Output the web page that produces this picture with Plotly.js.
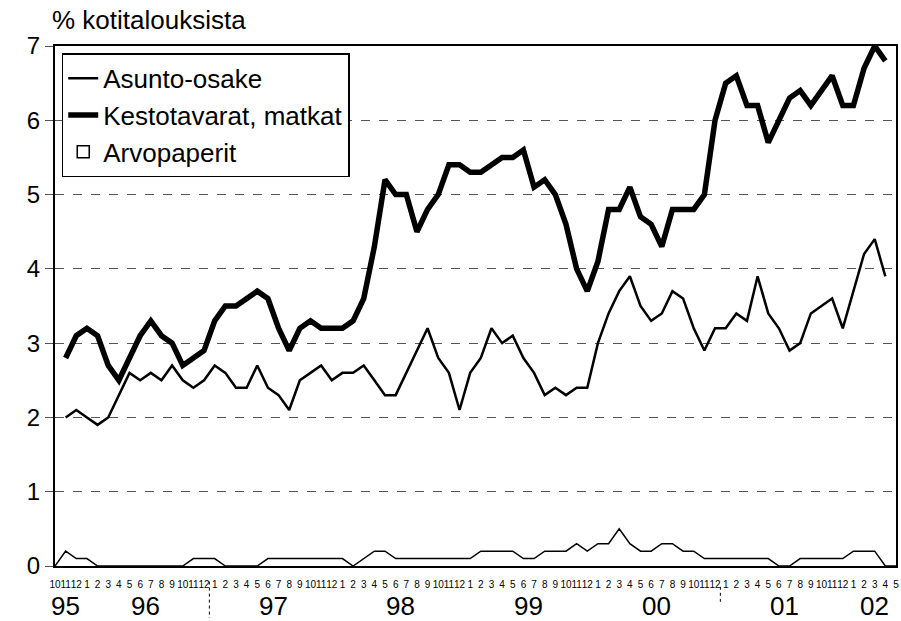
<!DOCTYPE html>
<html>
<head>
<meta charset="utf-8">
<script src="https://cdn.plot.ly/plotly-3.0.1.min.js"></script>
<style>
  html, body { margin: 0; padding: 0; background: #ffffff; }
  #chart { width: 901px; height: 621px; }
</style>
</head>
<body>
<div id="chart"></div>
<script>
// Month tick labels, Oct 1995 ... May 2002
const months = ['10','11','12',
  '1','2','3','4','5','6','7','8','9','10','11','12',
  '1','2','3','4','5','6','7','8','9','10','11','12',
  '1','2','3','4','5','6','7','8','9','10','11','12',
  '1','2','3','4','5','6','7','8','9','10','11','12',
  '1','2','3','4','5','6','7','8','9','10','11','12',
  '1','2','3','4','5','6','7','8','9','10','11','12',
  '1','2','3','4','5'];
const years = ['95','96','97','98','99','00','01','02'];

// % of households
const asuntoOsake = [null,2.0,2.1,2.0,1.9,2.0,2.3,2.6,2.5,2.6,2.5,2.7,2.5,2.4,2.5,2.7,2.6,2.4,2.4,2.7,2.4,2.3,2.1,2.5,2.6,2.7,2.5,2.6,2.6,2.7,2.5,2.3,2.3,2.6,2.9,3.2,2.8,2.6,2.1,2.6,2.8,3.2,3.0,3.1,2.8,2.6,2.3,2.4,2.3,2.4,2.4,3.0,3.4,3.7,3.9,3.5,3.3,3.4,3.7,3.6,3.2,2.9,3.2,3.2,3.4,3.3,3.9,3.4,3.2,2.9,3.0,3.4,3.5,3.6,3.2,3.7,4.2,4.4,3.9,null];
const kestotavarat = [null,2.8,3.1,3.2,3.1,2.7,2.5,2.8,3.1,3.3,3.1,3.0,2.7,2.8,2.9,3.3,3.5,3.5,3.6,3.7,3.6,3.2,2.9,3.2,3.3,3.2,3.2,3.2,3.3,3.6,4.3,5.2,5.0,5.0,4.5,4.8,5.0,5.4,5.4,5.3,5.3,5.4,5.5,5.5,5.6,5.1,5.2,5.0,4.6,4.0,3.7,4.1,4.8,4.8,5.1,4.7,4.6,4.3,4.8,4.8,4.8,5.0,6.0,6.5,6.6,6.2,6.2,5.7,6.0,6.3,6.4,6.2,6.4,6.6,6.2,6.2,6.7,7.0,6.8,null];
const arvopaperit = [0,0.2,0.1,0.1,0,0,0,0,0,0,0,0,0,0.1,0.1,0.1,0,0,0,0,0.1,0.1,0.1,0.1,0.1,0.1,0.1,0.1,0,0.1,0.2,0.2,0.1,0.1,0.1,0.1,0.1,0.1,0.1,0.1,0.2,0.2,0.2,0.2,0.1,0.1,0.2,0.2,0.2,0.3,0.2,0.3,0.3,0.5,0.3,0.2,0.2,0.3,0.3,0.2,0.2,0.1,0.1,0.1,0.1,0.1,0.1,0.1,0,0,0.1,0.1,0.1,0.1,0.1,0.2,0.2,0.2,0,0];

const idx = months.map((m, i) => i);

// year label positions: centre of each year's run of months
const yearCentres = [];
let start = 0;
for (let i = 1; i <= months.length; i++) {
  if (i === months.length || months[i] === '1') {
    yearCentres.push((start + i - 1) / 2);
    start = i;
  }
}

const FONT = 'Liberation Sans, Arial, sans-serif';

const traces = [
  { x: idx, y: asuntoOsake, name: 'Asunto-osake', type: 'scatter', mode: 'lines',
    line: { color: '#000', width: 2.5 }, legendgroup: 'a' },
  { x: idx, y: kestotavarat, name: 'Kestotavarat, matkat', type: 'scatter', mode: 'lines',
    line: { color: '#000', width: 5.5 }, legendgroup: 'b' },
  { x: idx, y: arvopaperit, name: 'Arvopaperit', type: 'scatter', mode: 'lines',
    fill: 'tozeroy', fillcolor: '#ffffff', line: { color: '#000', width: 1.5 },
    legendgroup: 'c', showlegend: false },
  // legend entry (box symbol) for the area series; carries no visible mark
  { x: [idx[0]], y: [null], name: 'Arvopaperit', type: 'bar',
    marker: { color: '#ffffff', line: { color: '#000', width: 1.5 } }, legendgroup: 'c' }
];

const annotations = years.map((t, k) => ({
  text: t, x: yearCentres[k], xref: 'x', y: -0.076, yref: 'paper',
  xanchor: 'center', yanchor: 'middle', showarrow: false,
  font: { family: FONT, size: 26, color: '#000' }
}));
annotations.push({
  text: '% kotitalouksista', xref: 'paper', yref: 'paper', x: -0.006, y: 1.05,
  xanchor: 'left', yanchor: 'middle', showarrow: false,
  font: { family: FONT, size: 26, color: '#000' }
});

const layout = {
  width: 901, height: 621,
  margin: { l: 55, r: 5, t: 46, b: 55 },
  paper_bgcolor: '#fff', plot_bgcolor: '#fff',
  showlegend: true,
  legend: {
    x: 0.008, y: 0.986, xanchor: 'left', yanchor: 'top',
    bgcolor: '#fff', bordercolor: '#000', borderwidth: 1.5,
    font: { family: FONT, size: 26, color: '#000' },
    itemwidth: 30, traceorder: 'grouped', tracegroupgap: 0
  },
  xaxis: {
    range: [0, 79], tickmode: 'array', tickvals: idx, ticktext: months, tickangle: 0,
    tickfont: { family: 'Liberation Sans Narrow, Liberation Sans, Arial', size: 10, color: '#000' },
    ticklabelstandoff: 8,
    showgrid: false, zeroline: false, showline: true, linecolor: '#000', linewidth: 2,
    mirror: true, ticks: ''
  },
  yaxis: {
    range: [0, 7], tickmode: 'linear', tick0: 0, dtick: 1,
    tickfont: { family: FONT, size: 24, color: '#000' },
    showgrid: true, gridcolor: '#555', gridwidth: 1, griddash: 'dash',
    zeroline: false, showline: true, linecolor: '#000', linewidth: 2, mirror: true,
    ticks: 'outside', ticklen: 8, tickcolor: '#555', tickwidth: 1
  },
  annotations: annotations,
  shapes: [
    { type: 'line', xref: 'x', yref: 'paper', x0: 14.5, x1: 14.5, y0: -0.03, y1: -0.1,
      line: { color: '#000', width: 1, dash: 'dot' } },
    { type: 'line', xref: 'x', yref: 'paper', x0: 62.5, x1: 62.5, y0: -0.04, y1: -0.07,
      line: { color: '#000', width: 1, dash: 'dot' } }
  ]
};

Plotly.newPlot('chart', traces, layout, { staticPlot: true, displayModeBar: false });
</script>
</body>
</html>
